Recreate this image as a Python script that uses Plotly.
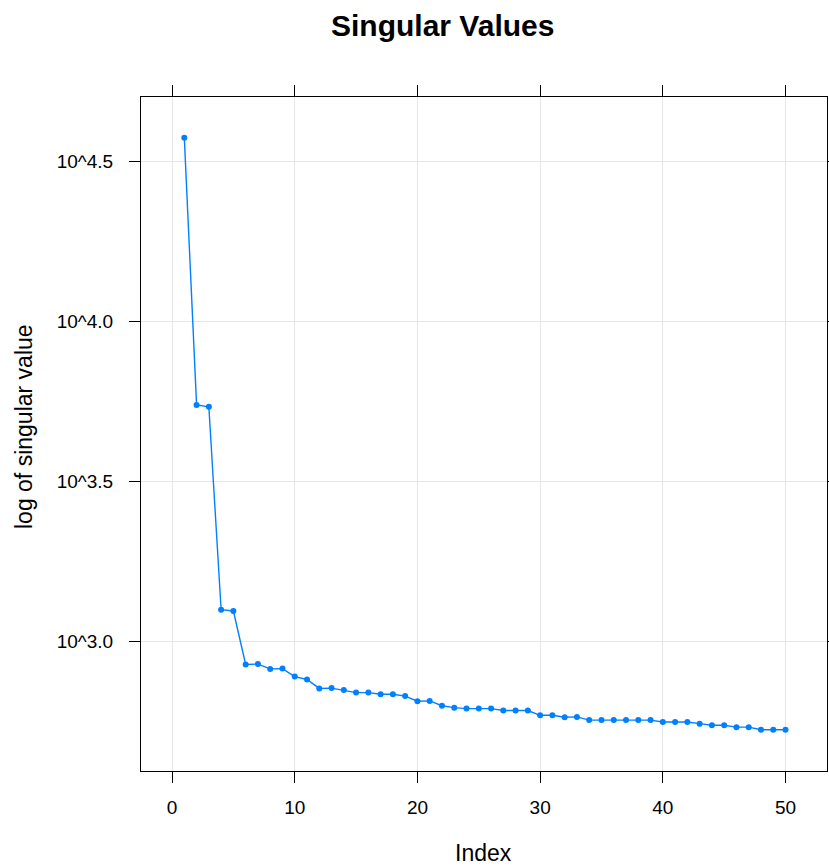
import plotly.graph_objects as go

index = list(range(1, 51))
log10_singular_values = [
    4.575, 3.740, 3.734, 3.100, 3.096, 2.929, 2.930, 2.915, 2.916, 2.891,
    2.882, 2.854, 2.855, 2.849, 2.841, 2.841, 2.836, 2.836, 2.830, 2.814,
    2.815, 2.800, 2.794, 2.791, 2.791, 2.791, 2.785, 2.785, 2.785, 2.770,
    2.770, 2.764, 2.765, 2.755, 2.755, 2.755, 2.755, 2.755, 2.755, 2.749,
    2.749, 2.749, 2.744, 2.739, 2.739, 2.733, 2.733, 2.725, 2.725, 2.725,
]
singular_values = [10 ** v for v in log10_singular_values]

x_ticks = [0, 10, 20, 30, 40, 50]
y_tick_exps = [3.0, 3.5, 4.0, 4.5]
y_tick_text = ["10^3.0", "10^3.5", "10^4.0", "10^4.5"]

W, H = 829, 866
ML, MR, MT, MB = 141, 2, 97, 95
FONT = "Liberation Sans"

fig = go.Figure()
fig.add_trace(go.Scatter(
    x=index, y=singular_values, mode="lines+markers",
    line=dict(color="#0080ff", width=1.4),
    marker=dict(color="#0080ff", size=6, symbol="circle"),
    showlegend=False,
))

axis_common = dict(
    showline=True, linecolor="black", linewidth=1, mirror="allticks",
    ticks="outside", ticklen=11, tickwidth=1, tickcolor="black",
    showgrid=True, gridcolor="#e6e6e6", gridwidth=1, zeroline=False,
    tickfont=dict(family=FONT, size=19, color="black"),
)

fig.update_xaxes(
    range=[-2.53, 53.38], tickvals=x_ticks, ticklabelstandoff=8,
    **axis_common,
)
fig.update_yaxes(
    type="log", range=[2.596, 4.702],
    tickvals=[10 ** e for e in y_tick_exps], ticktext=y_tick_text,
    ticklabelstandoff=12,
    **axis_common,
)

ph = H - MT - MB
pw = W - ML - MR

def px_to_paper_x(px):
    return (px - ML) / pw

def px_to_paper_y(py):
    return (H - MB - py) / ph

fig.add_annotation(
    text="<b>Singular Values</b>", xref="paper", yref="paper",
    x=px_to_paper_x(442), y=px_to_paper_y(25), xanchor="center", yanchor="middle",
    showarrow=False, font=dict(family=FONT, size=30, color="black"),
)
fig.add_annotation(
    text="Index", xref="paper", yref="paper",
    x=px_to_paper_x(483), y=px_to_paper_y(853), xanchor="center", yanchor="middle",
    showarrow=False, font=dict(family=FONT, size=23, color="black"),
)
fig.add_annotation(
    text="log of singular value", xref="paper", yref="paper",
    x=px_to_paper_x(24), y=px_to_paper_y(426), xanchor="center", yanchor="middle",
    textangle=-90, showarrow=False, font=dict(family=FONT, size=23, color="black"),
)

fig.update_layout(
    width=W, height=H,
    margin=dict(l=ML, r=MR, t=MT, b=MB, autoexpand=False),
    paper_bgcolor="white", plot_bgcolor="white",
    font=dict(family=FONT),
)

fig.write_html("out.html")
